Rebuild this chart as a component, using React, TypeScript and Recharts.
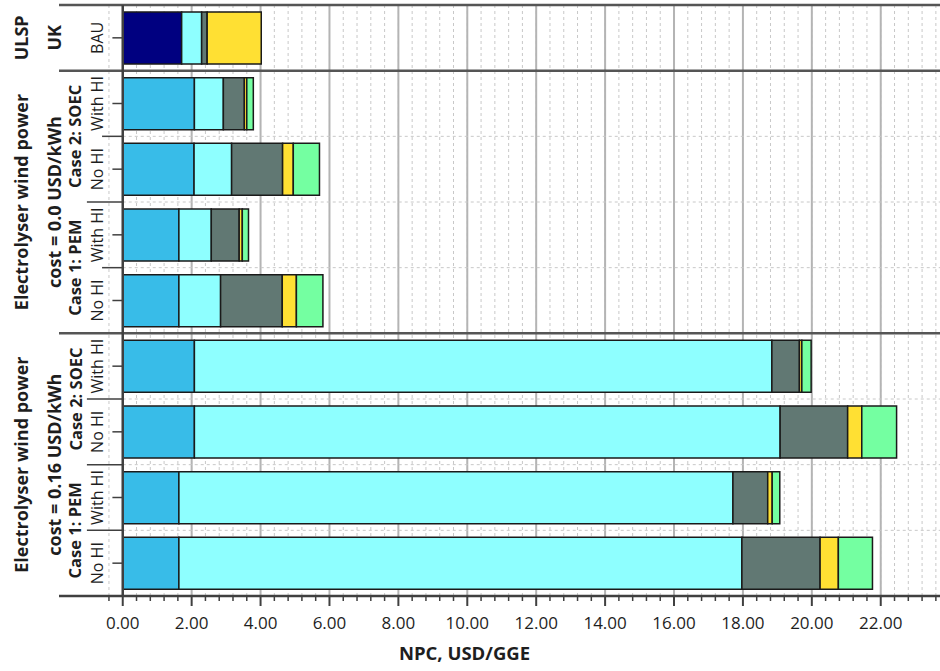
import { BarChart, Bar, XAxis, YAxis, CartesianGrid, ReferenceLine } from 'recharts';

// one row per bar, top to bottom
const rowIds = ['r0', 'r1', 'r2', 'r3', 'r4', 'r5', 'r6', 'r7', 'r8'];
const rowLabels = ['BAU', 'With HI', 'No HI', 'With HI', 'No HI', 'With HI', 'No HI', 'With HI', 'No HI'];

// NPC components, USD/GGE
const navy = [1.71, 0, 0, 0, 0, 0, 0, 0, 0];
const blue = [0, 2.08, 2.07, 1.63, 1.63, 2.08, 2.08, 1.63, 1.63];
const cyan = [0.58, 0.84, 1.09, 0.94, 1.21, 16.76, 17.0, 16.08, 16.34];
const slate = [0.16, 0.61, 1.48, 0.81, 1.79, 0.8, 1.96, 1.01, 2.27];
const yellow = [1.57, 0.07, 0.31, 0.09, 0.41, 0.07, 0.41, 0.13, 0.53];
const green = [0, 0.19, 0.76, 0.18, 0.77, 0.27, 1.01, 0.22, 0.99];

// grouping labels on the left (start row, number of rows)
const caseGroups = [
  { label: 'Case 2: SOEC', start: 1, size: 2 },
  { label: 'Case 1: PEM', start: 3, size: 2 },
  { label: 'Case 2: SOEC', start: 5, size: 2 },
  { label: 'Case 1: PEM', start: 7, size: 2 },
];
const outerGroups = [
  { lines: ['ULSP', 'UK'], start: 0, size: 1 },
  { lines: ['Electrolyser wind power', 'cost = 0.0 USD/kWh'], start: 1, size: 4 },
  { lines: ['Electrolyser wind power', 'cost = 0.16 USD/kWh'], start: 5, size: 4 },
];

const majorTicks = [0, 2, 4, 6, 8, 10, 12, 14, 16, 18, 20, 22];
const X_MIN = -1.85;
const X_MAX = 23.72;
const minorTicks = Array.from({ length: 61 }, (_, i) => Math.round((i - 1) * 4) / 10);

// rules at the top edge of a row: thick group rules, dashed rules inside groups,
// short stubs left of the axis
const groupRules = ['r0', 'r1', 'r5'];
const rowRules = ['r2', 'r3', 'r4', 'r6', 'r7', 'r8'];
const stubRules = [
  { at: 'r2', from: -0.6 },
  { at: 'r3', from: -1.04 },
  { at: 'r4', from: -0.6 },
  { at: 'r6', from: -1.04 },
  { at: 'r7', from: -1.04 },
  { at: 'r8', from: -1.04 },
];

const series = [
  { key: 'navy', color: '#000080' },
  { key: 'blue', color: '#38bce8' },
  { key: 'cyan', color: '#8effff' },
  { key: 'slate', color: '#617873' },
  { key: 'yellow', color: '#ffe033' },
  { key: 'green', color: '#74ffa1' },
];

const data = rowIds.map((id, i) => ({
  id,
  navy: navy[i],
  blue: blue[i],
  cyan: cyan[i],
  slate: slate[i],
  yellow: yellow[i],
  green: green[i],
}));

const W = 940;
const H = 671;
const TOP = 5;
const AXIS_H = 75;
const BAND = (H - TOP - AXIS_H) / rowIds.length;
const FONT = '"Open Sans", Lato, sans-serif';
const INK = '#1e1e1e';

function Rotated({ x, y, text, bold, size }: { x: number; y: number; text: string; bold?: boolean; size: number }) {
  return (
    <text
      x={x}
      y={y}
      transform={`rotate(-90 ${x} ${y})`}
      textAnchor="middle"
      dominantBaseline="central"
      fontSize={size}
      fontWeight={bold ? 700 : 400}
      fill={INK}
      fontFamily={FONT}
    >
      {text}
    </text>
  );
}

function RowTick(props: any) {
  const { y, index } = props;
  const cg = caseGroups.find((g) => g.start === index);
  const og = outerGroups.find((g) => g.start === index);
  return (
    <g>
      <Rotated x={97} y={y} text={rowLabels[index]} size={16} />
      {cg && <Rotated x={75} y={y + ((cg.size - 1) * BAND) / 2} text={cg.label} bold size={16.5} />}
      {og && (
        <>
          <Rotated x={21} y={y + ((og.size - 1) * BAND) / 2} text={og.lines[0]} bold size={18} />
          <Rotated x={54} y={y + ((og.size - 1) * BAND) / 2} text={og.lines[1]} bold size={18} />
        </>
      )}
    </g>
  );
}

function ValueTick(props: any) {
  const { x, y, payload } = props;
  const v = payload.value as number;
  const major = v >= 0 && Math.abs(v / 2 - Math.round(v / 2)) < 1e-6;
  return (
    <g>
      <line x1={x} x2={x} y1={y} y2={y + (major ? 10 : 5)} stroke="#404040" strokeWidth={major ? 2 : 1.5} />
      {major && (
        <text x={x} y={y + 33} textAnchor="middle" fontSize={17} fill={INK} fontFamily={FONT}>
          {v.toFixed(2)}
        </text>
      )}
    </g>
  );
}

export default function App() {
  return (
    <div style={{ position: 'absolute', left: 0, top: 0, width: W, height: H, background: '#fff' }}>
      <BarChart
        width={W}
        height={H}
        data={data}
        layout="vertical"
        margin={{ top: TOP, right: 0, left: 0, bottom: 0 }}
        style={{ fontFamily: FONT }}
      >
        <CartesianGrid
          yAxisId="cat"
          horizontal={false}
          verticalValues={minorTicks}
          stroke="#c8c8c8"
          strokeDasharray="3 3"
        />
        <CartesianGrid yAxisId="cat" horizontal={false} verticalValues={majorTicks.slice(1)} stroke="#b4b4b4" strokeWidth={2} />
        <XAxis
          type="number"
          domain={[X_MIN, X_MAX]}
          allowDataOverflow
          ticks={minorTicks}
          interval={0}
          height={AXIS_H}
          tickSize={0}
          tickMargin={0}
          tickLine={false}
          axisLine={{ stroke: '#404040', strokeWidth: 2.5 }}
          tick={<ValueTick />}
          label={{
            value: 'NPC, USD/GGE',
            position: 'insideBottom',
            offset: 11,
            dx: -35,
            style: { fontSize: 18.5, fontWeight: 700, fill: INK, fontFamily: FONT },
          }}
        />
        <YAxis
          yAxisId="cat"
          type="category"
          dataKey="id"
          width={59}
          axisLine={false}
          tickLine={false}
          interval={0}
          tick={<RowTick />}
        />
        {series.map((s) => (
          <Bar
            key={s.key}
            dataKey={s.key}
            yAxisId="cat"
            stackId="npc"
            fill={s.color}
            stroke="#1a1a1a"
            strokeWidth={1.5}
            barSize={52}
            isAnimationActive={false}
          />
        ))}
        {rowRules.map((id) => (
          <ReferenceLine
            key={`row-${id}`}
            yAxisId="cat"
            position="start"
            segment={[{ x: 0, y: id }, { x: X_MAX, y: id }]}
            stroke="#c8c8c8"
            strokeDasharray="3 3"
          />
        ))}
        {stubRules.map((s) => (
          <ReferenceLine
            key={`stub-${s.at}`}
            yAxisId="cat"
            position="start"
            segment={[{ x: s.from, y: s.at }, { x: 0, y: s.at }]}
            stroke="#404040"
            strokeWidth={1.5}
          />
        ))}
        {rowIds.map((id) => (
          <ReferenceLine
            key={`tick-${id}`}
            yAxisId="cat"
            segment={[{ x: -0.3, y: id }, { x: 0, y: id }]}
            stroke="#404040"
            strokeWidth={1.5}
          />
        ))}
        {groupRules.map((id) => (
          <ReferenceLine
            key={`group-${id}`}
            yAxisId="cat"
            position="start"
            segment={[{ x: X_MIN, y: id }, { x: X_MAX, y: id }]}
            stroke="#555"
            strokeWidth={2.5}
          />
        ))}
        <ReferenceLine yAxisId="cat" x={0} stroke="#404040" strokeWidth={2.5} />
      </BarChart>
    </div>
  );
}
